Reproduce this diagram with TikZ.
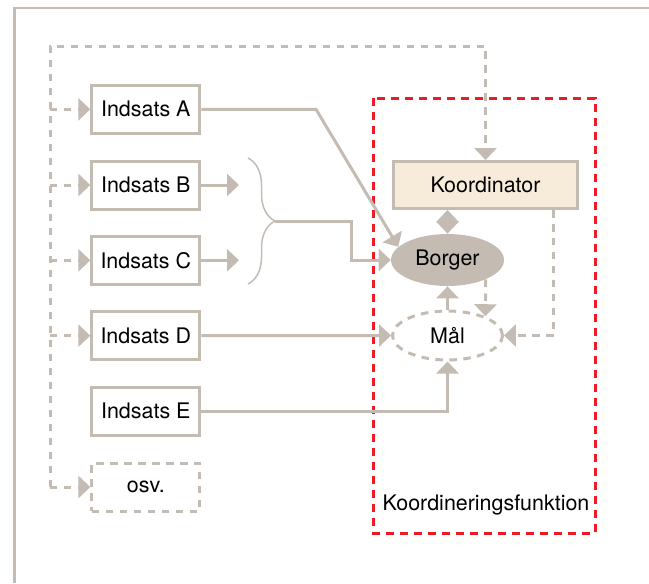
\documentclass[tikz,border=0pt]{standalone}
\usepackage{fontspec}
\setmainfont{TeX Gyre Heros}
\usetikzlibrary{arrows.meta,shapes.geometric,decorations.pathreplacing}
\definecolor{taupe}{HTML}{C4BCB3}
\definecolor{cream}{HTML}{F7ECDA}
\definecolor{signal}{HTML}{ED1C24}
\begin{document}
\begin{tikzpicture}[x=0.02cm, y=-0.02cm, >={Triangle[length=2.4mm,width=4.4mm]}, font=\fontsize{12.2}{14}\selectfont]
	\tikzstyle{place}=[rectangle, draw=taupe, line width=0.06cm, minimum width=2.16cm, minimum height=0.96cm, inner sep=0pt]
	\tikzstyle{blob}=[ellipse, minimum width=2.2cm, minimum height=0.98cm, inner sep=0pt]
	\tikzstyle{link}=[draw=taupe, line width=0.06cm]
	\tikzstyle{dlink}=[link, dash pattern=on 0.15cm off 0.13cm]
	\useasboundingbox (0,0) rectangle (649,583);
	\draw[taupe, line width=0.055cm] (14.5,583) -- (14.5,8) -- (649,8);

	% koordineringsfunktion
	\draw[signal, line width=0.06cm, dash pattern=on 0.16cm off 0.12cm] (373,98) rectangle (595,533);
	\draw node at (486,505) (kfunk) {Koordineringsfunktion};

	\draw node[place] at (145.8,109.3) (inda) {Indsats A};
	\draw node[place] at (145.8,185) (indb) {Indsats B};
	\draw node[place] at (145.8,260.3) (indc) {Indsats C};
	\draw node[place] at (145.8,335.7) (indd) {Indsats D};
	\draw node[place] at (145.8,411) (inde) {Indsats E};
	\draw node[place, dash pattern=on 0.15cm off 0.13cm] at (145.8,487) (osv) {osv.};
	\draw node[place, fill=cream, minimum width=3.68cm, minimum height=0.94cm] at (485.5,185) (koord) {Koordinator};
	\draw node[blob, fill=taupe, minimum width=2.26cm, minimum height=1.04cm] at (447.5,260) (borger) {Borger};
	\draw node[blob, draw=taupe, line width=0.06cm, dash pattern=on 0.15cm off 0.13cm] at (447.5,335.5) (maal) {Mål};

	\coordinate (lt) at (50,46);
	\coordinate (abend) at (316,109.3);
	\coordinate (bout) at (239,185);
	\coordinate (cout) at (239,260.3);
	\coordinate (btop) at (248,158);
	\coordinate (bbot) at (248,284);
	\coordinate (bmid) at (275,221);

	% tilbagekobling
	\draw [dlink, ->] (lt |- osv) -- (lt) -| (koord);
	\draw [dlink, ->] (lt |- inda) -- (inda);
	\draw [dlink, ->] (lt |- indb) -- (indb);
	\draw [dlink, ->] (lt |- indc) -- (indc);
	\draw [dlink, ->] (lt |- indd) -- (indd);
	\draw [dlink, ->] (lt |- osv) -- (osv);

	\draw [link, ->] (inda) -- (abend) -- (borger.165);
	\draw [link, ->] (indb) -- (bout);
	\draw [link, ->] (indc) -- (cout);
	\draw [draw=taupe, line width=0.03cm, decorate, decoration={brace, amplitude=0.54cm}] (btop) -- (bbot);
	\draw [link, ->] (bmid) -- ++(76.7,0) |- (borger);
	\draw [link, ->] (indd) -- (maal);
	\draw [link, ->] (inde) -| (maal);
	\draw [link, ->] (maal) -- (borger);
	\draw [link, <->] (koord.south -| borger.north) -- (borger.north);
	\draw [dlink, ->] (borger.-27) -- (maal.27);
	\draw [dlink, ->] ([xshift=-0.5cm]koord.south east) |- (maal);
\end{tikzpicture}
\end{document}
